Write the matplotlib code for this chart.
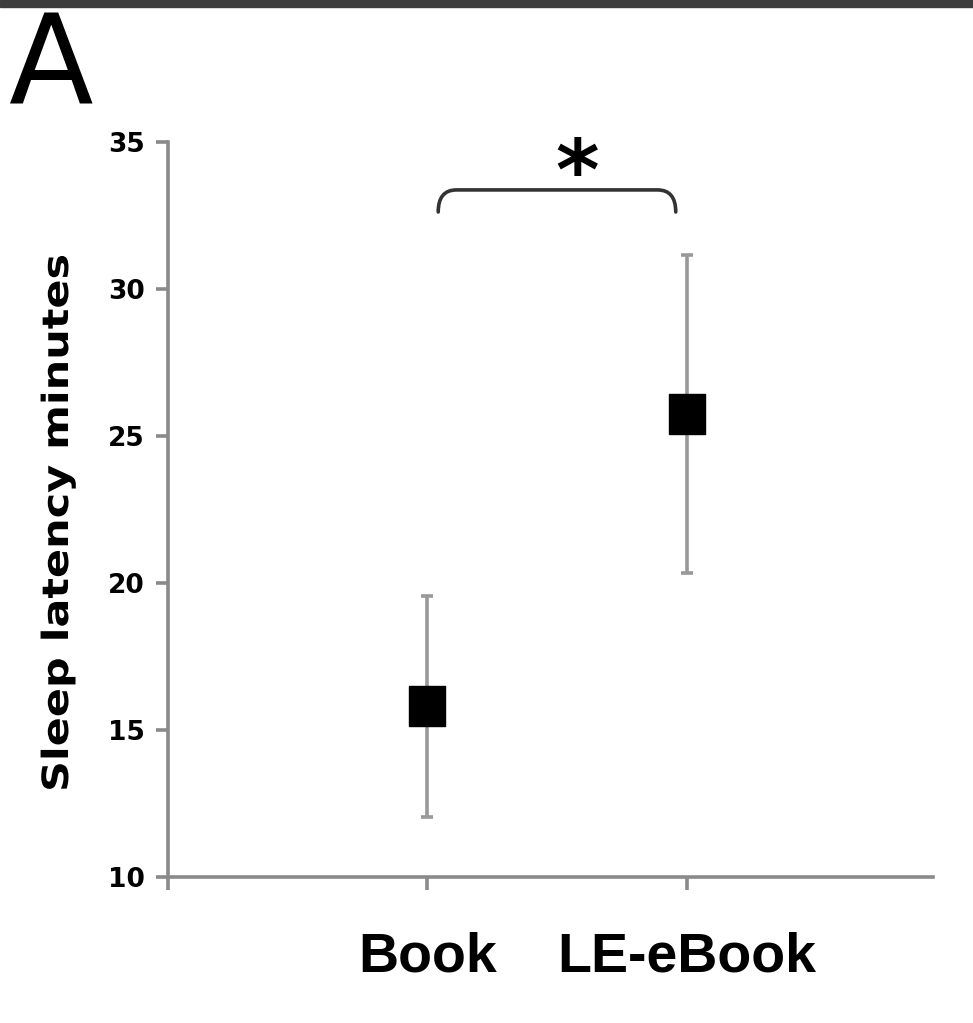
import matplotlib
matplotlib.use("Agg")
import matplotlib.pyplot as plt
from matplotlib.path import Path
from matplotlib.patches import PathPatch, Rectangle
from matplotlib.transforms import Affine2D
from matplotlib import patheffects

# Data
groups = ["Book", "LE-eBook"]
means = [15.8, 25.75]
errors = [3.75, 5.4]
yticks = [10, 15, 20, 25, 30, 35]


class Stretch(patheffects.AbstractPathEffect):
    """Draw glyphs scaled along the baseline (looser, wider lettering)."""
    def __init__(self, sx):
        super().__init__()
        self.sx = sx

    def draw_path(self, renderer, gc, tpath, affine, rgbFace=None):
        renderer.draw_path(gc, tpath, Affine2D().scale(self.sx, 1) + affine, rgbFace)


W, H = 973, 1023
fig = plt.figure(figsize=(W / 100, H / 100), dpi=100)

# dark strip along the top edge
fig.patches.append(Rectangle((0, 1 - 7 / H), 1, 7 / H, transform=fig.transFigure,
                             color="#3c3c3c", zorder=0))

ax = fig.add_axes([168 / W, 146 / H, (933 - 168) / W, (877 - 142) / H])

axis_col = "#8a8a8a"
x = [1, 2]

# rectangular marker (slightly taller than wide)
rect = Path([(-0.875, -1), (0.875, -1), (0.875, 1), (-0.875, 1), (-0.875, -1)],
            [Path.MOVETO, Path.LINETO, Path.LINETO, Path.LINETO, Path.CLOSEPOLY])

ax.errorbar(x, means, yerr=errors, fmt="none", ecolor="#999999", elinewidth=2.6,
            capsize=4.5, capthick=2.6, zorder=2)
ax.plot(x, means, linestyle="none", marker=rect, markersize=29, color="black",
        markeredgecolor="black", zorder=3)

ax.set_xlim(0, 2.95)
ax.set_ylim(10, 35)
ax.set_yticks(yticks)
ax.set_yticklabels([str(v) for v in yticks], fontsize=19, fontweight="bold",
                   family="DejaVu Sans")
ax.set_xticks([0] + x)
ax.set_xticklabels([""] + groups, fontsize=40, fontweight="bold",
                   family="Liberation Sans")

for s in ["top", "right"]:
    ax.spines[s].set_visible(False)
for s in ["left", "bottom"]:
    ax.spines[s].set_color(axis_col)
    ax.spines[s].set_linewidth(2.6)

ax.tick_params(axis="y", direction="out", length=8.5, width=2.6, color=axis_col, pad=8)
ax.tick_params(axis="x", direction="out", length=9, width=2.6, color=axis_col, pad=30)

# y-axis title, laid out from its bottom end and widened along the baseline
fig.text(58 / W, 1 - 792 / H, "Sleep latency minutes", rotation=90, fontsize=26,
         fontweight="bold", family="DejaVu Sans", ha="center", va="bottom",
         path_effects=[Stretch(1.19)])

# significance bracket
xl, xr, yb, yt, r = 1.042, 1.958, 32.62, 33.37, 0.07
verts = [(xl, yb), (xl, yt), (xl + r, yt), (xr - r, yt), (xr, yt), (xr, yb)]
codes = [Path.MOVETO, Path.CURVE3, Path.CURVE3, Path.LINETO, Path.CURVE3, Path.CURVE3]
ax.add_patch(PathPatch(Path(verts, codes), facecolor="none", edgecolor="#333333",
                       linewidth=2.6, clip_on=False, capstyle="round"))
ax.text(1.579, 32.47, "*", fontsize=60, fontweight="bold", family="DejaVu Sans",
        ha="center", va="bottom", clip_on=False)

# panel letter
fig.text(8 / W, 1 - 103 / H, "A", fontsize=89, family="DejaVu Sans",
         ha="left", va="baseline")

fig.savefig("out.png", dpi=100)
